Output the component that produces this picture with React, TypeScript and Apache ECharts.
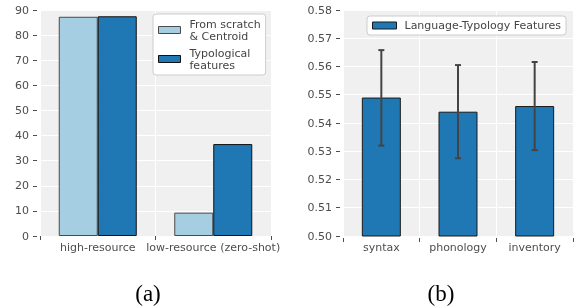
import React, { useEffect, useRef } from "react";
import * as echarts from "echarts";

const categoriesA = ["high-resource", "low-resource (zero-shot)"];
const scratchValues = [87.3, 9.3];
const typologicalValues = [87.5, 36.6];
const yTicksA = { min: 0, max: 90, interval: 10 };

const categoriesB = ["syntax", "phonology", "inventory"];
const typologyMeans = [0.549, 0.544, 0.546];
const typologyErrLow = [0.532, 0.5275, 0.5304];
const typologyErrHigh = [0.5658, 0.5605, 0.5616];
const yTicksB = { min: 0.5, max: 0.58, interval: 0.01 };

const captions = ["(a)", "(b)"];

const TEXT = "#4d4d4d";
const FONT = "DejaVu Sans";

export default function App() {
  const ref = useRef<HTMLDivElement>(null);
  useEffect(() => {
    if (!ref.current) return;
    const chart = echarts.init(ref.current, undefined, { renderer: "svg" });
    const catAxis = (gridIndex: number, data: string[]) => ({
      type: "category",
      gridIndex,
      data,
      offset: 2,
      axisLine: { show: false },
      axisTick: { show: true, length: 4, lineStyle: { color: TEXT, width: 1 } },
      axisLabel: { color: TEXT, fontSize: 11, fontFamily: FONT, margin: 4, interval: 0, hideOverlap: false },
      splitLine: { show: true, interval: 0, lineStyle: { color: "#ffffff", width: 1 } },
    });
    const valAxis = (gridIndex: number, t: any, fmt: (v: number) => string) => ({
      type: "value",
      gridIndex,
      min: t.min,
      max: t.max,
      interval: t.interval,
      offset: 3,
      axisLine: { show: false },
      axisTick: { show: true, length: 4, lineStyle: { color: TEXT, width: 1 } },
      axisLabel: { color: TEXT, fontSize: 11, fontFamily: FONT, margin: 8, formatter: fmt },
      splitLine: { show: true, lineStyle: { color: "#ffffff", width: 1 } },
    });
    const errData = categoriesB.map((_, i) => [i, typologyErrLow[i], typologyErrHigh[i]]);
    chart.setOption({
      animation: false,
      grid: [
        { left: 40, top: 10, width: 231, height: 226, show: true, backgroundColor: "#f0f0f0", borderWidth: 0 },
        { left: 343, top: 10, width: 230, height: 226, show: true, backgroundColor: "#f0f0f0", borderWidth: 0 },
      ],
      xAxis: [catAxis(0, categoriesA), catAxis(1, categoriesB)],
      yAxis: [
        valAxis(0, yTicksA, (v: number) => String(Math.round(v))),
        valAxis(1, yTicksB, (v: number) => v.toFixed(2)),
      ],
      legend: [
        {
          data: ["From scratch\n& Centroid", "Typological\nfeatures"],
          orient: "vertical",
          left: 153,
          top: 14,
          icon: "rect",
          itemWidth: 22,
          itemHeight: 7,
          itemGap: 5,
          padding: [4, 5, 4, 5],
          backgroundColor: "#ffffff",
          borderColor: "#cccccc",
          borderWidth: 1,
          borderRadius: 3,
          itemStyle: { borderWidth: 1 },
          textStyle: { color: "#444", fontSize: 11, fontFamily: FONT, lineHeight: 12, padding: [0, 0, 0, 4] },
        },
        {
          data: ["Language-Typology Features"],
          left: 367,
          top: 16,
          icon: "rect",
          itemWidth: 24,
          itemHeight: 7,
          padding: [3, 5, 3, 5],
          backgroundColor: "#ffffff",
          borderColor: "#cccccc",
          borderWidth: 1,
          borderRadius: 3,
          itemStyle: { borderWidth: 1 },
          textStyle: { color: "#444", fontSize: 11, fontFamily: FONT, lineHeight: 13, padding: [0, 0, 0, 3] },
        },
      ],
      series: [
        {
          type: "bar",
          name: "From scratch\n& Centroid",
          xAxisIndex: 0,
          yAxisIndex: 0,
          data: scratchValues,
          barWidth: 39,
          barGap: "0%",
          itemStyle: { color: "#a6cee3", borderColor: "#4a4a4a", borderWidth: 1 },
        },
        {
          type: "bar",
          name: "Typological\nfeatures",
          xAxisIndex: 0,
          yAxisIndex: 0,
          data: typologicalValues,
          barWidth: 39,
          barGap: "0%",
          itemStyle: { color: "#1f78b4", borderColor: "#111111", borderWidth: 1 },
        },
        {
          type: "bar",
          name: "Language-Typology Features",
          xAxisIndex: 1,
          yAxisIndex: 1,
          data: typologyMeans,
          barWidth: 39,
          itemStyle: { color: "#1f77b4", borderColor: "#1a1a1a", borderWidth: 1 },
        },
        {
          type: "custom",
          name: "err",
          xAxisIndex: 1,
          yAxisIndex: 1,
          data: errData,
          encode: { x: 0, y: [1, 2] },
          z: 10,
          renderItem: (params: any, api: any) => {
            const idx = api.value(0);
            const lo = api.coord([idx, api.value(1)]);
            const hi = api.coord([idx, api.value(2)]);
            const st = { stroke: "#444444", lineWidth: 2 };
            const cap = 3;
            return {
              type: "group",
              children: [
                { type: "line", shape: { x1: lo[0], y1: lo[1], x2: hi[0], y2: hi[1] }, style: st },
                { type: "line", shape: { x1: lo[0] - cap, y1: lo[1], x2: lo[0] + cap, y2: lo[1] }, style: st },
                { type: "line", shape: { x1: hi[0] - cap, y1: hi[1], x2: hi[0] + cap, y2: hi[1] }, style: st },
              ],
            };
          },
        },
      ],
      graphic: [
        {
          type: "text",
          x: 148,
          y: 293,
          style: { text: captions[0], fill: "#000", fontSize: 23, fontFamily: "Liberation Serif", align: "center", verticalAlign: "middle" },
        },
        {
          type: "text",
          x: 441,
          y: 293,
          style: { text: captions[1], fill: "#000", fontSize: 23, fontFamily: "Liberation Serif", align: "center", verticalAlign: "middle" },
        },
      ],
    });
    return () => chart.dispose();
  }, []);
  return <div ref={ref} style={{ position: "fixed", left: 0, top: 0, width: 574, height: 307 }} />;
}
